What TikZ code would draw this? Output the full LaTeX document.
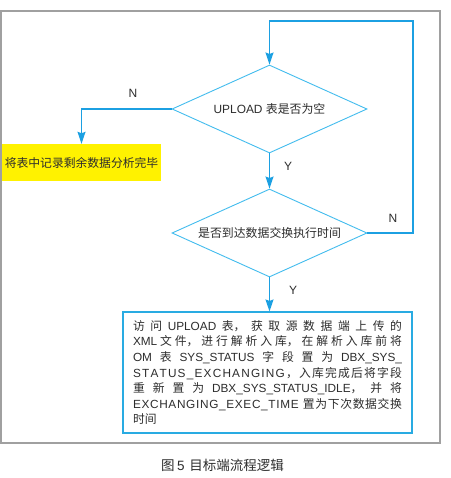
\documentclass[tikz,border=0pt]{standalone}
\usepackage{fontspec}
\setmainfont{Liberation Sans}
\newfontfamily\cjk{Noto Sans CJK SC}
\usetikzlibrary{shapes.geometric,arrows.meta}
\newcommand\zh[1]{{\cjk #1}}
\newcommand\jg{\hskip 0pt plus 1fil\relax}
\newcommand\bxline[1]{\hbox to 269pt{#1}}
\def\lsp#1{\lspA#1\relax}
\def\lspA#1{\ifx#1\relax\else#1\jg\expandafter\lspA\fi}
\definecolor{diacol}{RGB}{66,188,238}
\definecolor{arrcol}{RGB}{28,160,226}
\definecolor{boxcol}{RGB}{41,171,226}
\definecolor{framecol}{RGB}{160,160,160}
\definecolor{yel}{RGB}{255,242,0}
\definecolor{txt}{RGB}{45,45,45}
\tikzset{
  dia/.style={shape=diamond, draw=diacol, line width=0.9pt, aspect=2.2,
    minimum width=195pt, minimum height=88pt, inner sep=0pt, text=txt,
    font=\fontsize{11.9}{14}\selectfont},
  flow/.style={draw=arrcol, line width=1.3pt, -{Stealth[length=12pt,width=8pt,inset=1.5pt]}},
  lbl/.style={text=txt, font=\fontsize{12}{14}\selectfont, inner sep=0pt},
  yelbox/.style={fill=yel, minimum width=159pt, minimum height=37pt, inner sep=0pt,
    text=txt, font=\fontsize{11.8}{15}\selectfont},
  mainbox/.style={draw=boxcol, line width=1.1pt, minimum width=289pt, minimum height=121pt,
    inner xsep=10pt, inner ysep=6pt, align=left, text=txt,
    font=\fontsize{11.8}{15.6}\selectfont},
}
\begin{document}
\begin{tikzpicture}[x=1pt,y=-1pt]
\useasboundingbox (0,0) rectangle (450,478);
\fill[white] (0,0) rectangle (450,478);
\draw[framecol, line width=1.3pt] (1,11) rectangle (440,443);

\node[dia] (d1) at (269.5,109) {UPLOAD \zh{表是否为空}};
\node[dia] (d2) at (269.5,233) {\zh{是否到达数据交换执行时间}};
\node[yelbox] (y) at (81.5,162.5) {\zh{将表中记录剩余数据分析完毕}};
\node[mainbox] (box) at (267.5,372.5) {%
\bxline{\zh{访\jg 问}\jg UPLOAD\jg\zh{表，\jg 获\jg 取\jg 源\jg 数\jg 据\jg 端\jg 上\jg 传\jg 的}}\\
\bxline{XML\jg\zh{文\jg 件，\jg 进\jg 行\jg 解\jg 析\jg 入\jg 库，\jg 在\jg 解\jg 析\jg 入\jg 库\jg 前\jg 将}}\\
\bxline{OM\jg\zh{表}\jg SYS\_STATUS\jg\zh{字\jg 段\jg 置\jg 为}\jg DBX\_SYS\_}\\
\bxline{\lsp{STATUS\_EXCHANGING}\zh{，\jg 入\jg 库\jg 完\jg 成\jg 后\jg 将\jg 字\jg 段}}\\
\bxline{\zh{重\jg 新\jg 置\jg 为}\jg DBX\_SYS\_STATUS\_IDLE\zh{，\jg 并\jg 将}}\\
\bxline{\lsp{EXCHANGING\_EXEC\_TIME}\hspace{3.5pt}\zh{置\jg 为\jg 下\jg 次\jg 数\jg 据\jg 交\jg 换}}\\
\bxline{\zh{时间}\hfil}};

\coordinate (loop) at (413,21);
\draw[flow] (d1.south) -- (d2.north);
\draw[flow] (d2.south) -- (d2.south |- box.north);
\draw[flow] (d1.west) -| (y.north);
\draw[flow] (d2.east) -| (loop) -| (d1.north);

\node[lbl] (n1) at (133,93) {N};
\node[lbl] (y1) at (288,166) {Y};
\node[lbl] (n2) at (393,218) {N};
\node[lbl] (y2) at (293,290) {Y};

\node[text=txt, font=\fontsize{13.5}{15}\selectfont, inner sep=0pt] (cap) at (222.5,465)
  {\zh{图}\hspace{0.2em}5\hspace{0.35em}\zh{目标端流程逻辑}};
\end{tikzpicture}
\end{document}
